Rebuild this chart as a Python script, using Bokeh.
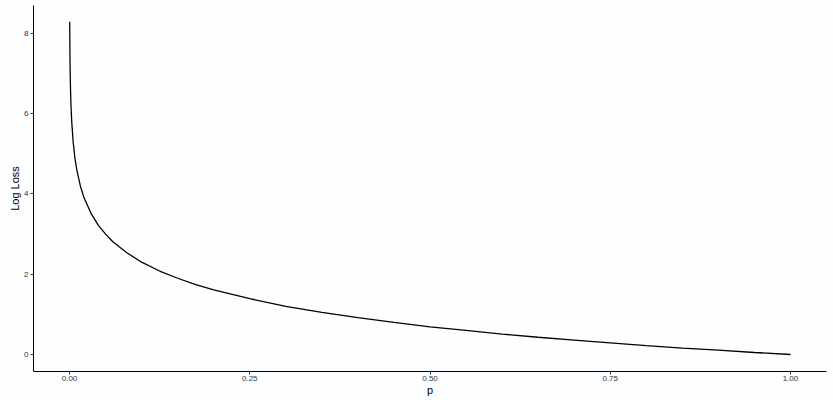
from bokeh.plotting import figure
from bokeh.models import Range1d, FixedTicker, CustomJSTickFormatter
from bokeh.embed import file_html
from bokeh.resources import INLINE

# values
p_values = [0.00025, 0.0005, 0.00075, 0.001, 0.0015, 0.002, 0.003, 0.005, 0.0075,
            0.01, 0.015, 0.02, 0.03, 0.04, 0.05, 0.06, 0.08, 0.10, 0.125, 0.15,
            0.175, 0.2, 0.25, 0.3, 0.35, 0.4, 0.45, 0.5, 0.55, 0.6, 0.65, 0.7,
            0.75, 0.8, 0.85, 0.9, 0.95, 1.0]
log_loss = [8.29, 7.60, 7.20, 6.91, 6.50, 6.21, 5.81, 5.30, 4.89,
            4.61, 4.20, 3.91, 3.51, 3.22, 3.00, 2.81, 2.53, 2.30, 2.08, 1.90,
            1.74, 1.61, 1.39, 1.20, 1.05, 0.92, 0.80, 0.69, 0.60, 0.51, 0.43, 0.36,
            0.29, 0.22, 0.16, 0.11, 0.05, 0.00]
x_ticks = [0.0, 0.25, 0.5, 0.75, 1.0]
y_ticks = [0, 2, 4, 6, 8]

FONT = "Liberation Sans"

p = figure(width=833, height=400, output_backend="svg", toolbar_location=None,
           x_range=Range1d(-0.05, 1.05), y_range=Range1d(-0.424, 8.698),
           min_border_left=33, min_border_right=7, min_border_top=5,
           min_border_bottom=29)
p.background_fill_color = "#fdfeff"
p.border_fill_color = "#fdfeff"
p.outline_line_color = None
p.grid.visible = False

p.line(p_values, log_loss, line_color="black", line_width=1.3)

for ax in (p.xaxis[0], p.yaxis[0]):
    ax.axis_line_color = "black"
    ax.axis_line_width = 1
    ax.major_tick_line_color = "#333333"
    ax.major_tick_out = 3
    ax.major_tick_in = 0
    ax.minor_tick_line_color = None
    ax.major_label_text_font = FONT
    ax.major_label_text_font_size = "8px"
    ax.major_label_text_color = "#333333"
    ax.major_label_standoff = 1
    ax.axis_label_text_font = FONT
    ax.axis_label_text_font_size = "11px"
    ax.axis_label_text_font_style = "normal"
    ax.axis_label_text_color = "black"
    ax.axis_label_standoff = 0

p.xaxis[0].ticker = FixedTicker(ticks=x_ticks)
p.xaxis[0].formatter = CustomJSTickFormatter(code="return tick.toFixed(2);")
p.xaxis[0].axis_label = "p"
p.yaxis[0].ticker = FixedTicker(ticks=y_ticks)
p.yaxis[0].axis_label = "Log Loss"
p.yaxis[0].major_label_standoff = 2

open("out.html", "w").write(file_html(p, INLINE))
